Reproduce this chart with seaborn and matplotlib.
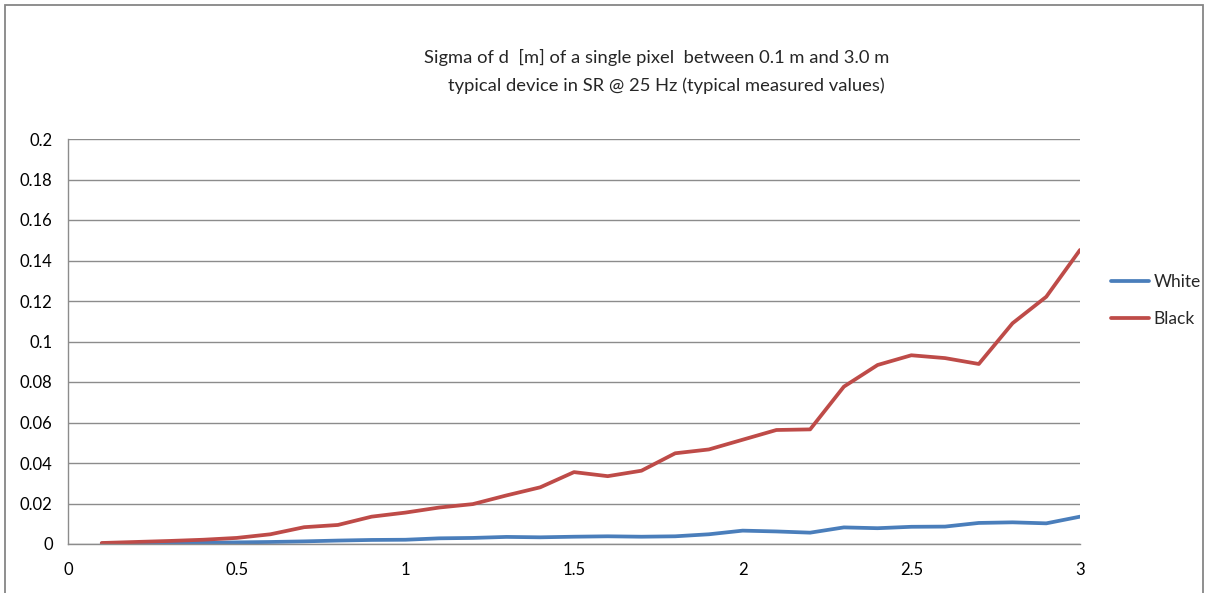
import numpy as np
import pandas as pd
import matplotlib
matplotlib.use("Agg")
import matplotlib.pyplot as plt
import seaborn as sns
from matplotlib.patches import Rectangle
from matplotlib.lines import Line2D

# ---- data ----
distance = [0.1, 0.2, 0.3, 0.4, 0.5, 0.6, 0.7, 0.8, 0.9, 1.0,
            1.1, 1.2, 1.3, 1.4, 1.5, 1.6, 1.7, 1.8, 1.9, 2.0,
            2.1, 2.2, 2.3, 2.4, 2.5, 2.6, 2.7, 2.8, 2.9, 3.0]
white = [0.0002, 0.0003, 0.0005, 0.0006, 0.0008, 0.0010, 0.0013, 0.0017, 0.0020, 0.0021,
         0.0028, 0.0030, 0.0035, 0.0033, 0.0036, 0.0038, 0.0036, 0.0038, 0.0048, 0.0066,
         0.0062, 0.0056, 0.0082, 0.0078, 0.0085, 0.0086, 0.0104, 0.0107, 0.0102, 0.0135]
black = [0.0005, 0.0010, 0.0015, 0.0021, 0.0030, 0.0048, 0.0083, 0.0094, 0.0135, 0.0155,
         0.0180, 0.0197, 0.0240, 0.0280, 0.0355, 0.0335, 0.0362, 0.0448, 0.0467, 0.0515,
         0.0563, 0.0566, 0.0777, 0.0884, 0.0932, 0.0918, 0.0889, 0.1090, 0.1221, 0.1452]
series_names = ["White", "Black"]
series_colors = ["#4A7EBB", "#BE4B48"]
x_ticks = [0, 0.5, 1, 1.5, 2, 2.5, 3]
x_tick_labels = ["0", "0.5", "1", "1.5", "2", "2.5", "3"]
y_ticks = [0, 0.02, 0.04, 0.06, 0.08, 0.1, 0.12, 0.14, 0.16, 0.18, 0.2]
y_tick_labels = ["0", "0.02", "0.04", "0.06", "0.08", "0.1", "0.12", "0.14", "0.16", "0.18", "0.2"]
title_lines = ["Sigma of d  [m] of a single pixel  between 0.1 m and 3.0 m",
               "typical device in SR @ 25 Hz (typical measured values)"]

df = pd.DataFrame({
    "distance": distance * 2,
    "sigma": white + black,
    "series": [series_names[0]] * len(white) + [series_names[1]] * len(black),
})

sns.set_style("white")
plt.rcParams["font.family"] = ["Lato", "DejaVu Sans"]

W, H, DPI = 1208, 593, 100
fig = plt.figure(figsize=(W / DPI, H / DPI), dpi=DPI)
ax = fig.add_axes([68 / W, 1 - 544 / H, (1080 - 68) / W, (544 - 139) / H])

sns.lineplot(data=df, x="distance", y="sigma", hue="series",
             palette=dict(zip(series_names, series_colors)),
             linewidth=2.7, ax=ax, legend=False)

ax.set_xlim(0, 3)
ax.set_ylim(0, 0.2)
ax.set_xticks(x_ticks)
ax.set_xticklabels(x_tick_labels)
ax.set_yticks(y_ticks)
ax.set_yticklabels(y_tick_labels)
ax.set_xlabel("")
ax.set_ylabel("")
ax.yaxis.grid(True, color="#8c8c8c", linewidth=1.0)
ax.xaxis.grid(False)
ax.set_axisbelow(True)
for s in ["top", "right"]:
    ax.spines[s].set_visible(False)
for s in ["left", "bottom"]:
    ax.spines[s].set_color("#8c8c8c")
    ax.spines[s].set_linewidth(1.0)
ax.tick_params(axis="both", which="both", direction="out", length=5, width=1,
               color="#8c8c8c", labelsize=12, labelcolor="#000000")
ax.tick_params(axis="x", pad=8)
ax.tick_params(axis="y", pad=6)

# legend
handles = [Line2D([0], [0], color=c, lw=2.7) for c in series_colors]
fig.legend(handles, series_names, loc="center left",
           bbox_to_anchor=(1111 / W, 1 - 300.5 / H), frameon=False,
           borderpad=0, borderaxespad=0,
           fontsize=12.5, handlelength=2.2, handletextpad=0.25, labelspacing=1.25)

# title
fig.text(657 / W, 1 - 57 / H, title_lines[0], ha="center", va="center", fontsize=13.2)
fig.text(666 / W, 1 - 86 / H, title_lines[1], ha="center", va="center", fontsize=13.2)

# chart area border
fig.patches.append(Rectangle((5 / W, -0.05), (1203 - 5) / W, 1 - 5 / H + 0.05,
                             transform=fig.transFigure, fill=False,
                             edgecolor="#868686", linewidth=1.3))

fig.savefig("out.png", dpi=DPI)
